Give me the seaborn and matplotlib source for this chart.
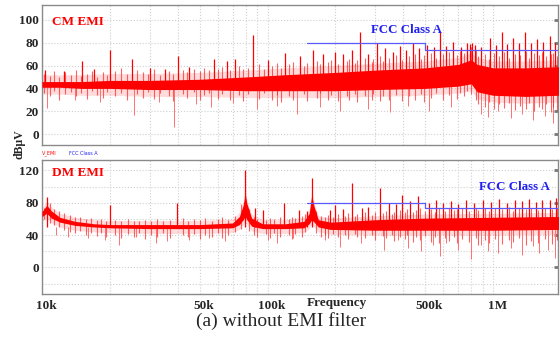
import matplotlib
matplotlib.use("Agg")
import matplotlib.pyplot as plt
import matplotlib.transforms as mtransforms
import seaborn as sns
import pandas as pd

# ---- CM EMI (top panel), frequencies in kHz, levels in dBuV ----
cm_freq = [10, 12, 15, 20, 30, 50, 80, 120, 200, 300, 500, 700, 800, 850, 1000, 1400, 1950]
cm_lo = [41, 41, 40, 40, 39, 39, 38, 38, 38, 39, 40, 42, 44, 37, 34, 33, 34]
cm_hi = [46, 46, 46, 47, 47, 48, 50, 52, 54, 56, 58, 61, 65, 61, 58, 58, 59]
cm_fuzz_lo = [35, 35, 34, 34, 33, 33, 32, 32, 32, 33, 34, 36, 38, 31, 28, 27, 28]
cm_fuzz_hi = [52, 52, 52, 53, 53, 54, 56, 58, 60, 62, 64, 67, 71, 67, 64, 64, 65]

# individual trace lines (freq, low end, high end)
cm_fine_f = [10.2, 10.8, 11.3, 11.9, 12.7, 13.4, 14.2, 14.9, 15.8, 16.6, 17.6, 18.7, 19.5,
             21, 22.3, 23.8, 26.5, 28, 29.5, 31.5, 33.5, 36.5, 38, 42, 44, 47, 50, 52.5,
             55, 60, 63, 68, 75, 78, 82, 92, 96, 105, 110, 115, 125, 130, 145, 150, 165,
             170, 185, 192, 205, 225, 230, 245, 250, 270, 290, 295, 315, 325, 345, 370,
             395, 425, 450, 480, 495, 530, 560, 600, 640, 690, 710, 740, 770, 800, 840,
             860, 920, 960, 1010, 1060, 1120, 1180, 1250, 1320, 1400, 1440, 1520, 1600,
             1650, 1720, 1800, 1850, 1920]
cm_fine_bot = [36, 33, 38, 30, 35, 37, 33, 36, 31, 38, 34, 32, 37,
               33, 36, 30, 35, 32, 37, 31, 36, 33, 29, 35, 32, 37, 30, 34,
               36, 31, 35, 30, 34, 29, 35, 31, 36, 30, 34, 28, 33, 30, 35, 29, 32,
               36, 30, 34, 29, 33, 30, 35, 28, 33, 30, 35, 29, 33, 30, 34,
               29, 33, 30, 35, 28, 32, 36, 30, 34, 31, 36, 33, 38, 35, 30,
               26, 24, 28, 22, 26, 23, 27, 21, 25, 22, 27, 20, 24,
               22, 26, 19, 24, 21]
cm_fine_top = [53, 51, 55, 50, 54, 52, 56, 51, 53, 55, 50, 54, 52,
               55, 58, 53, 56, 54, 53, 57, 52, 55, 53, 56, 54, 57, 55, 58,
               56, 57, 59, 56, 60, 57, 58, 61, 57, 60, 62, 58, 61, 63, 60, 62, 64,
               61, 63, 65, 61, 64, 66, 62, 65, 67, 63, 66, 68, 64, 67, 69,
               65, 68, 70, 66, 69, 71, 67, 70, 72, 69, 73, 71, 75, 76, 74,
               68, 70, 66, 71, 68, 72, 67, 70, 69, 73, 67, 71, 69,
               72, 68, 70, 71, 68]

cm_spike_f = [10.3, 12.5, 15, 17, 20, 25, 30, 35, 40, 45, 58, 66, 72, 86, 100, 120, 140,
              159, 176, 199, 216, 237, 257, 280, 306, 333, 360, 386, 410, 440, 470, 509,
              545, 580, 620, 667, 720, 765, 790, 810, 830, 880, 971, 1030, 1090, 1150,
              1220, 1300, 1380, 1470, 1560, 1670, 1780, 1880]
cm_spike_top = [56, 55, 64, 57, 74, 66, 58, 57, 68, 59, 66, 64, 66, 87, 65, 71, 68,
                74, 70, 72, 70, 74, 89, 70, 80, 75, 72, 77, 74, 80, 75, 78,
                76, 89, 77, 81, 76, 80, 79, 80, 78, 76, 84, 78, 89, 79,
                84, 80, 89, 80, 83, 81, 86, 80]
cm_dip_f = [10.5, 14, 18, 25.7, 33, 38.5, 48, 56, 70, 90, 110, 135, 170, 210, 280, 350,
            420, 520, 650, 880, 950, 1050, 1200, 1350, 1500, 1700, 1850]
cm_dip_bot = [23, 30, 28, 17, 28, 6, 26, 24, 27, 22, 25, 18, 24, 20, 22, 19,
              25, 20, 24, 18, 15, 20, 14, 18, 12, 16, 10]

# ---- DM EMI (bottom panel) ----
dm_freq = [10, 10.5, 11, 12, 14, 17, 20, 30, 50, 70, 75, 78, 79.6, 81, 85, 95, 120,
           145, 153, 157, 161, 168, 190, 300, 500, 1000, 1950]
dm_lo = [63, 67, 61, 56, 52, 50, 49, 48, 48, 49, 53, 59, 63, 59, 51, 48, 48,
         49, 54, 59, 56, 50, 47, 46, 46, 46, 47]
dm_hi = [69, 77, 70, 62, 57, 54, 53, 53, 53, 55, 63, 77, 91, 79, 61, 54, 54,
         57, 67, 89, 75, 59, 56, 59, 61, 62, 63]
dm_fuzz_lo = [57, 61, 55, 50, 46, 44, 43, 42, 42, 43, 47, 53, 57, 53, 45, 42, 42,
              43, 48, 53, 50, 44, 41, 40, 40, 40, 41]
dm_fuzz_hi = [74, 82, 75, 67, 62, 59, 58, 58, 58, 60, 68, 82, 96, 84, 66, 59, 59,
              62, 72, 94, 80, 64, 61, 64, 66, 67, 68]

dm_fine_f = [10.2, 10.8, 11.3, 11.9, 12.5, 13.3, 14, 14.8, 15.6, 16.5, 17.5, 18.3, 19.2,
             21, 22.5, 24, 25.5, 27, 28.5, 30.5, 32.5, 34.5, 37, 42, 44.5, 47, 50, 53,
             57, 60, 63, 67, 72, 76, 83, 87, 90, 98, 103, 107, 113, 124, 128, 133, 142,
             147, 164, 172, 180, 186, 195, 205, 220, 228, 243, 250, 270, 290, 300, 325,
             335, 355, 362, 385, 405, 415, 440, 455, 475, 500, 530, 550, 575, 610, 635,
             670, 690, 730, 780, 840, 860, 920, 960, 1020, 1100, 1180, 1220, 1300, 1400,
             1480, 1580, 1700, 1820, 1920]
dm_fine_bot = [60, 55, 52, 50, 46, 44, 42, 45, 40, 43, 39, 42, 37,
               40, 36, 41, 38, 42, 35, 40, 37, 42, 36, 40, 37, 41, 35, 40,
               38, 42, 36, 40, 44, 48, 45, 40, 38, 41, 36, 42, 38, 40, 35, 41, 38,
               44, 43, 38, 40, 36, 41, 37, 40, 35, 41, 38, 36, 40, 34, 39,
               36, 40, 33, 38, 35, 40, 31, 37, 34, 39, 32, 37, 30, 36, 33,
               38, 30, 35, 32, 36, 28, 34, 30, 35, 29, 34, 31, 36, 28,
               33, 30, 35, 29, 34]
dm_fine_top = [74, 80, 72, 70, 67, 65, 63, 62, 60, 61, 59, 60, 58,
               59, 57, 60, 57, 58, 59, 57, 60, 58, 59, 61, 58, 60, 59, 61,
               58, 60, 62, 59, 64, 78, 72, 62, 60, 59, 61, 60, 62, 60, 63, 61, 64,
               66, 70, 64, 62, 65, 63, 66, 64, 67, 64, 66, 68, 65, 69, 67,
               70, 66, 69, 71, 68, 72, 68, 71, 73, 70, 72, 69, 73, 70, 74,
               71, 72, 74, 70, 73, 71, 74, 70, 73, 72, 75, 70, 73, 72,
               74, 71, 74, 72, 73]

dm_spike_f = [10.5, 20, 39.6, 79.6, 88, 95, 118, 138, 150, 158, 190, 200, 215, 236,
              262, 280, 316, 345, 370, 394, 430, 465, 520, 560, 600, 650, 700, 760,
              820, 900, 980, 1060, 1150, 1250, 1350, 1450, 1550, 1650, 1780, 1900]
dm_spike_top = [87, 77, 80, 120, 74, 71, 80, 71, 70, 111, 71, 77, 72, 105,
                73, 75, 98.5, 80, 78, 90, 82, 88, 80, 84, 80, 82, 79, 83,
                80, 84, 81, 85, 80, 84, 82, 85, 81, 84, 83, 86]
dm_dip_f = [11.5, 13, 16, 19, 22, 26, 32, 36, 45, 55, 65, 100, 110, 130, 180, 210,
            260, 330, 380, 420, 480, 540, 580, 620, 700, 800, 880, 950, 1050, 1200,
            1350, 1500, 1600, 1750, 1880]
dm_dip_bot = [40, 38, 36, 34, 28, 38, 30, 33, 34, 36, 33, 34, 30, 36, 34, 25,
              30, 22, 34, 24, 20, 28, 14, 30, 22, 10, 28, 20, 18, 24,
              15, 26, 18, 22, 12]

# FCC Class A limit (step)
fcc_freq = [150, 500, 1950]
fcc_level = [80, 74, 74]

tick_khz = [10, 50, 100, 500, 1000]
tick_txt = ["10k", "50k", "100k", "500k", "1M"]

sns.set_style("white")
plt.rcParams["font.family"] = ["Liberation Serif", "DejaVu Serif"]

fig = plt.figure(figsize=(5.6, 3.41), dpi=100)
ax1 = fig.add_axes([0.075, 0.5748, 0.9214, 0.4106])
ax2 = fig.add_axes([0.075, 0.1378, 0.9214, 0.3930])

red = "#ff0000"
pink = "#ff7070"


def draw_panel(ax, f, lo, hi, flo, fhi, ff, fb, ft, sf, st, df, db, base):
    ax.fill_between(f, flo, fhi, color=pink, alpha=0.25, lw=0, zorder=2)
    ax.vlines(ff, fb, ft, color="#ff2020", lw=0.8, alpha=0.7, zorder=3)
    ax.fill_between(f, lo, hi, color=red, lw=0, zorder=3)
    ax.vlines(sf, base, st, color=red, lw=0.9, zorder=4)
    ax.vlines(df, base, db, color=pink, lw=0.7, zorder=2)


draw_panel(ax1, cm_freq, cm_lo, cm_hi, cm_fuzz_lo, cm_fuzz_hi,
           cm_fine_f, cm_fine_bot, cm_fine_top,
           cm_spike_f, cm_spike_top, cm_dip_f, cm_dip_bot, 45)
draw_panel(ax2, dm_freq, dm_lo, dm_hi, dm_fuzz_lo, dm_fuzz_hi,
           dm_fine_f, dm_fine_bot, dm_fine_top,
           dm_spike_f, dm_spike_top, dm_dip_f, dm_dip_bot, 50)

fcc_df = pd.DataFrame({"f": fcc_freq, "dB": fcc_level})
for ax in (ax1, ax2):
    sns.lineplot(data=fcc_df, x="f", y="dB", ax=ax, color="#5a5aff", lw=0.9,
                 drawstyle="steps-post", zorder=5)

ax1.set_ylim(-9.5, 113)
ax2.set_ylim(-33, 133)
ax1.set_yticks([0, 20, 40, 60, 80, 100])
ax2.set_yticks([0, 40, 80, 120])
ax2.set_yticks([-20, 20, 60, 100], minor=True)

for ax in (ax1, ax2):
    ax.set_xscale("log")
    ax.set_xlim(10, 1940)
    ax.set_xlabel("")
    ax.set_ylabel("")
    ax.grid(True, which="both", axis="both", color="#cfcfcf", ls=":", lw=0.8, zorder=0)
    for s in ax.spines.values():
        s.set_color("#8a8a8a")
        s.set_linewidth(1.0)
    ax.tick_params(axis="y", which="major", left=False, right=True, labelleft=True,
                   labelright=False, direction="in", length=3, width=2, color="#777777",
                   labelsize=9.5, pad=2)
    ax.tick_params(axis="y", which="minor", left=False, right=False)
    ax.tick_params(axis="x", which="both", bottom=False, top=False)
    for lab in ax.get_yticklabels():
        lab.set_fontweight("bold")

ax1.set_xticks(tick_khz)
ax1.set_xticklabels([])
ax1.tick_params(axis="x", which="minor", labelbottom=False)
ax2.set_xticks(tick_khz)
ax2.set_xticklabels(tick_txt, fontsize=9.5, fontweight="bold")
ax2.tick_params(axis="x", which="minor", labelbottom=False)
ax2.tick_params(axis="x", pad=0.5)
shift = mtransforms.ScaledTranslation(4 / 100, 0, fig.dpi_scale_trans)
for lab in ax2.get_xticklabels():
    lab.set_transform(lab.get_transform() + shift)

ax2.text(0.571, -0.068, "Frequency", transform=ax2.transAxes, ha="center", va="center",
         fontsize=9.5, fontweight="bold")

ax1.text(0.019, 0.879, "CM EMI", transform=ax1.transAxes, color=red, fontsize=9.5,
         fontweight="bold", ha="left", va="center")
ax2.text(0.019, 0.905, "DM EMI", transform=ax2.transAxes, color=red, fontsize=9.5,
         fontweight="bold", ha="left", va="center")
ax1.text(0.707, 0.821, "FCC Class A", transform=ax1.transAxes, color="#2020f0",
         fontsize=9.3, fontweight="bold", ha="center", va="center", zorder=6)
ax2.text(0.9157, 0.80, "FCC Class A", transform=ax2.transAxes, color="#2020f0",
         fontsize=9.3, fontweight="bold", ha="center", va="center", zorder=6)

fig.text(0.034, 0.578, "dB\u03bcV", rotation=90, ha="center", va="center",
         fontsize=8.5, fontweight="bold")
fig.text(0.075, 0.551, "V_EMI", color=red, fontsize=3.5, ha="left", va="center",
         family="DejaVu Sans")
fig.text(0.123, 0.551, "FCC Class A", color="#2020f0", fontsize=3.5, ha="left",
         va="center", family="DejaVu Sans")

fig.text(0.502, 0.058, "(a) without EMI filter", ha="center", va="center", fontsize=14)

fig.savefig("out.png", dpi=100)
